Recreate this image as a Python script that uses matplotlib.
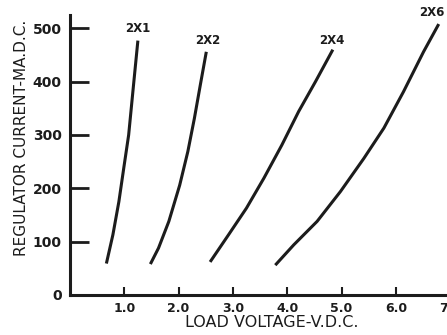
import matplotlib
matplotlib.use("Agg")
import matplotlib.pyplot as plt

# curves: load voltage (V.D.C.) vs regulator current (MA.D.C.)
v_2x1 = [0.67, 0.79, 0.90, 0.99, 1.08, 1.17, 1.25]
i_2x1 = [59, 113, 175, 238, 300, 394, 477]

v_2x2 = [1.48, 1.63, 1.82, 2.02, 2.17, 2.29, 2.40, 2.51]
i_2x2 = [58, 88, 138, 206, 269, 331, 394, 456]

v_2x4 = [2.58, 2.92, 3.25, 3.57, 3.90, 4.21, 4.52, 4.84]
i_2x4 = [62, 113, 163, 219, 281, 344, 400, 460]

v_2x6 = [3.78, 4.12, 4.55, 4.98, 5.41, 5.78, 6.14, 6.51, 6.79]
i_2x6 = [56, 94, 138, 194, 256, 313, 381, 456, 508]

curve_names = ["2X1", "2X2", "2X4", "2X6"]
label_pos = [(1.24, 499), (2.53, 478), (4.83, 478), (6.67, 529)]

x_ticks = [1, 2, 3, 4, 5, 6, 7]
x_tick_labels = ["1.0", "2.0", "3.0", "4.0", "5.0", "6.0", "7.0"]
y_ticks = [0, 100, 200, 300, 400, 500]

INK = "#1c1c1c"

fig = plt.figure(figsize=(4.47, 3.35), dpi=100)
ax = fig.add_axes([70 / 447, 40 / 335, 391 / 447, 280 / 335])

for v, i in [(v_2x1, i_2x1), (v_2x2, i_2x2), (v_2x4, i_2x4), (v_2x6, i_2x6)]:
    ax.plot(v, i, color=INK, linewidth=2.2, solid_capstyle="butt",
            solid_joinstyle="round")

for name, (x, y) in zip(curve_names, label_pos):
    ax.text(x, y, name, ha="center", va="center", fontsize=8.5,
            fontweight="bold", color=INK)

ax.set_xlim(0, 7.2)
ax.set_ylim(0, 525)
ax.set_xticks(x_ticks)
ax.set_xticklabels(x_tick_labels)
ax.set_yticks(y_ticks)

for s in ["top", "right"]:
    ax.spines[s].set_visible(False)
for s in ["left", "bottom"]:
    ax.spines[s].set_linewidth(2.2)
    ax.spines[s].set_color(INK)

ax.tick_params(axis="x", direction="in", length=6, width=1.5, color=INK,
               labelsize=9, pad=5)
ax.tick_params(axis="y", direction="in", length=14, width=2, color=INK,
               labelsize=10, pad=6)
for t in ax.get_xticklabels() + ax.get_yticklabels():
    t.set_fontweight("bold")
    t.set_color(INK)

ax.set_xlabel("LOAD VOLTAGE-V.D.C.", fontsize=11.5, color=INK)
ax.set_ylabel("REGULATOR CURRENT-MA.D.C.", fontsize=11, color=INK)
ax.xaxis.set_label_coords((272 - 70) / 391, -20 / 280)
ax.yaxis.set_label_coords(-41 / 391, (295 - 138) / 280)

fig.savefig("out.png", dpi=100)
plt.close(fig)
